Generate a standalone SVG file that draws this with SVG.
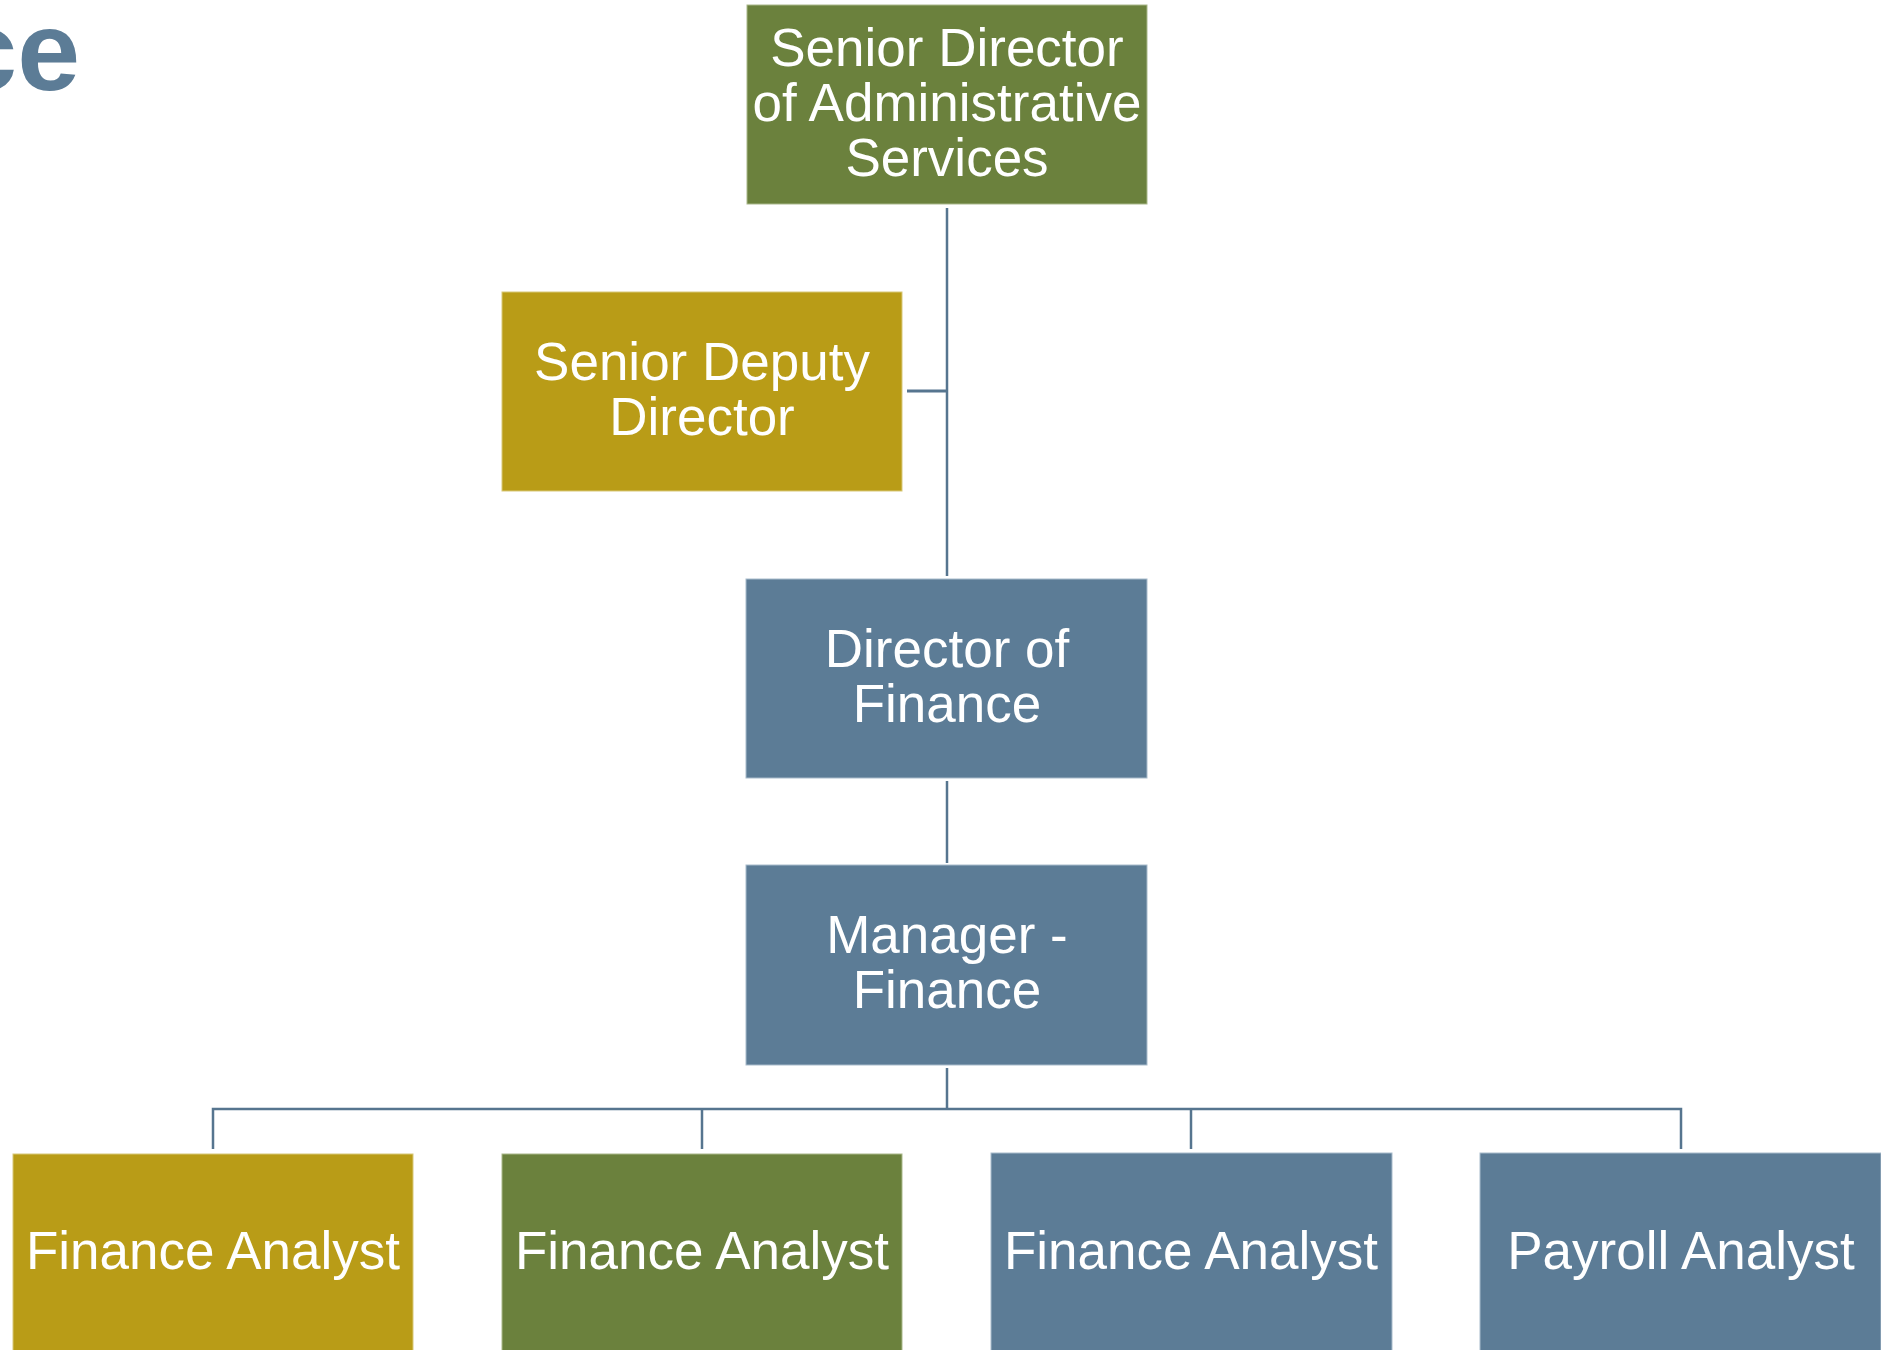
<svg xmlns="http://www.w3.org/2000/svg" width="1881" height="1350" viewBox="0 0 1881 1350">
<style>
.green{fill:#6B813D;stroke:#A9B78A;stroke-width:1}
.gold{fill:#B99C17;stroke:#D8C878;stroke-width:1}
.blue{fill:#5C7C96;stroke:#A8BBCB;stroke-width:1}
.lbl{font-family:"Liberation Sans",Arial,sans-serif;font-size:53px;fill:#FFFFFF;text-anchor:middle}
.conn{stroke:#56758F;stroke-width:2.5;fill:none}
.title{font-family:"Liberation Sans",Arial,sans-serif;font-size:113px;font-weight:bold;fill:#5C7C96;text-anchor:end}
</style>
<text class="title" x="80" y="90">ce</text>
<g id="connectors">
<path class="conn" d="M947 208V576"/>
<path class="conn" d="M907 391H947" style="stroke-width:3"/>
<path class="conn" d="M947 781V863"/>
<path class="conn" d="M947 1068V1109"/>
<path class="conn" d="M213 1149V1109H1681V1149"/>
<path class="conn" d="M702 1109V1149"/>
<path class="conn" d="M1191 1109V1149"/>
</g>
<g id="senior-director">
<rect class="green" x="747" y="5" width="400" height="199"/>
<text class="lbl" x="947" y="66">Senior Director</text>
<text class="lbl" x="947" y="121">of Administrative</text>
<text class="lbl" x="947" y="176">Services</text>
</g>
<g id="senior-deputy">
<rect class="gold" x="502" y="292" width="400" height="199"/>
<text class="lbl" x="702" y="380">Senior Deputy</text>
<text class="lbl" x="702" y="435">Director</text>
</g>
<g id="director-finance">
<rect class="blue" x="746" y="579" width="401" height="199"/>
<text class="lbl" x="947" y="667">Director of</text>
<text class="lbl" x="947" y="722">Finance</text>
</g>
<g id="manager-finance">
<rect class="blue" x="746" y="865" width="401" height="200"/>
<text class="lbl" x="947" y="953">Manager -</text>
<text class="lbl" x="947" y="1008">Finance</text>
</g>
<g id="analyst-1">
<rect class="gold" x="13" y="1154" width="400" height="200"/>
<text class="lbl" x="213" y="1269">Finance Analyst</text>
</g>
<g id="analyst-2">
<rect class="green" x="502" y="1154" width="400" height="200"/>
<text class="lbl" x="702" y="1269">Finance Analyst</text>
</g>
<g id="analyst-3">
<rect class="blue" x="991" y="1153" width="401" height="200"/>
<text class="lbl" x="1191" y="1269">Finance Analyst</text>
</g>
<g id="payroll-analyst">
<rect class="blue" x="1480" y="1153" width="401" height="200"/>
<text class="lbl" x="1681" y="1269">Payroll Analyst</text>
</g>
</svg>
